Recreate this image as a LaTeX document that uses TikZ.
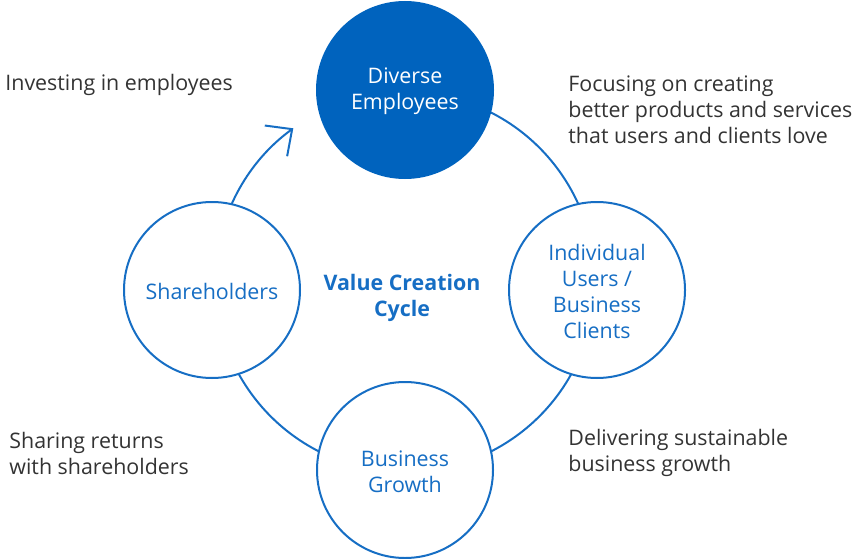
\documentclass[tikz,border=0pt]{standalone}
\usepackage{fontspec}
\setmainfont{Open Sans}
\usetikzlibrary{arrows.meta}
\definecolor{dblue}{RGB}{0,99,190}
\definecolor{lblue}{RGB}{22,110,196}
\definecolor{tgray}{RGB}{51,51,51}
\tikzset{
  cyc/.style={draw=lblue, line width=1pt},
  bub/.style={circle, draw=lblue, line width=1pt, fill=white, minimum size=88pt, inner sep=0pt},
  topbub/.style={bub, fill=dblue, draw=dblue},
  btxt/.style={align=center, text=lblue, inner sep=0pt, font=\fontsize{10.7}{13}\selectfont},
  note/.style={align=left, text=tgray, font=\fontsize{10.7}{13}\selectfont, inner sep=0pt},
}
\begin{document}
\begin{tikzpicture}[x=0.5pt,y=0.5pt]
\useasboundingbox (0,0) rectangle (855,558);
\coordinate (C) at (405,276);
% cycle arc with arrow
\draw[cyc, -{Straight Barb[length=10pt,width=19pt,line width=1pt]}] (C) ++(85:190) arc[start angle=85, end angle=-234, radius=190];
\node[topbub] (emp) at (405,468) {};
\node[bub] (usr) at (597,268) {};
\node[bub] (grw) at (405,88) {};
\node[bub] (shr) at (212,268) {};
\node[btxt, text=white] (embt) at ([yshift=-0.8pt]emp.center) {Diverse\\Employees};
\node[btxt] (usrt) at ([yshift=-0.8pt]usr.center) {Individual\\Users /\\Business\\Clients};
\node[btxt] (grwt) at ([yshift=-0.8pt]grw.center) {Business\\Growth};
\node[btxt] (shrt) at ([yshift=-0.8pt]shr.center) {Shareholders};
\node[btxt, font=\fontsize{10.7}{13}\selectfont\bfseries] (vcc) at (402,260) {Value Creation\\Cycle};
\node[note, anchor=west] (n1) at (5,473) {Investing in employees};
\node[note, anchor=west] (n2) at (568,448) {Focusing on creating\\better products and services\\that users and clients love};
\node[note, anchor=west] (n3) at (9,105) {Sharing returns\\with shareholders};
\node[note, anchor=west] (n4) at (568,105) {Delivering sustainable\\business growth};
\end{tikzpicture}
\end{document}
